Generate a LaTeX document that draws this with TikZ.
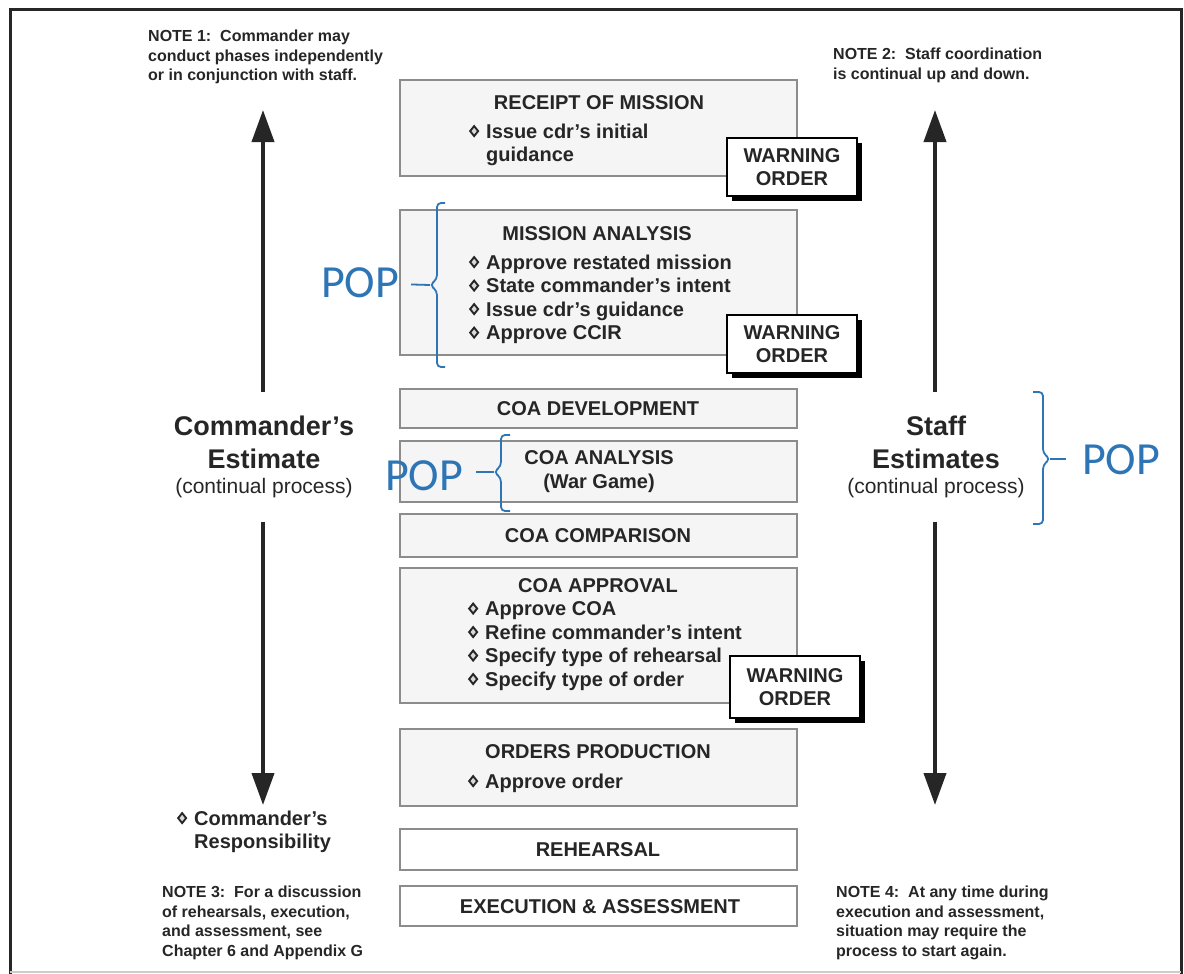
\documentclass[tikz,border=0pt]{standalone}
\usepackage{fontspec}
\setmainfont{Liberation Sans}
\newfontfamily\popfont{Carlito}
\usetikzlibrary{arrows.meta,shadows}
\definecolor{popblue}{RGB}{46,117,182}
\definecolor{ink}{RGB}{38,38,38}
\newcommand\bul{\tikz[baseline=0pt]\draw[ink,line width=1.9pt,fill=black!15] (0pt,7pt)--(4pt,12pt)--(8pt,7pt)--(4pt,2pt)--cycle;}
\newcommand\itm[1]{\makebox[17pt][l]{\bul}#1}
\newcommand\cnt[1]{\hspace*{17pt}#1}
\begin{document}
\begin{tikzpicture}[x=1pt, y=-1pt,
    txt/.style={text=ink, inner sep=0pt},
    phase/.style={draw=black!45, fill=black!4, line width=1.1pt, minimum width=397pt, inner sep=0pt,
      drop shadow={shadow xshift=0.6pt, shadow yshift=-1.4pt, fill=black!60, opacity=1}},
    plainphase/.style={phase, fill=white},
    ttl/.style={txt, font=\fontsize{20}{24.5}\selectfont\bfseries, align=center},
    items/.style={txt, font=\fontsize{20}{23.5}\selectfont\bfseries, align=left, anchor=north west},
    worder/.style={draw=black, fill=white, line width=1.2pt, minimum width=130pt, minimum height=58pt,
      align=center, text=ink, inner sep=0pt, font=\fontsize{20}{23}\selectfont\bfseries,
      drop shadow={shadow xshift=5pt, shadow yshift=-5pt, fill=black, opacity=1}},
    note/.style={txt, font=\fontsize{16}{19.5}\selectfont\bfseries, align=left, anchor=north west},
    est/.style={txt, align=center, font=\fontsize{27}{33}\selectfont\bfseries},
    bigarrow/.style={line width=4pt, ink, -{Triangle[length=32pt,width=22pt]}},
    pop/.style={text=popblue, inner sep=0pt, font=\popfont\fontsize{46}{50}\selectfont},
    brace/.style={popblue, line width=1.8pt, rounded corners=4pt}]
  \useasboundingbox (0,0) rectangle (1184,974);

  % frame
  \draw[line width=3pt, black!85] (10,974) -- (10,10) -- (1181,10) -- (1181,974);
  \draw[line width=2pt, black!20] (10,972) -- (1181,972);

  % notes
  \node[note] (note1) at (148,30) {NOTE 1:\ \ Commander may\\conduct phases independently\\or in conjunction with staff.};
  \node[note] (note2) at (833,48) {NOTE 2:\ \ Staff coordination\\is continual up and down.};
  \node[note] (note3) at (162,886) {NOTE 3:\ \ For a discussion\\of rehearsals, execution,\\and assessment, see\\Chapter 6 and Appendix G};
  \node[note] (note4) at (836,886) {NOTE 4:\ \ At any time during\\execution and assessment,\\situation may require the\\process to start again.};

  % phases
  \node[phase, minimum height=96pt] (receipt) at (598.5,128) {};
  \node[phase, minimum height=145pt] (mission) at (598.5,282.5) {};
  \node[phase, minimum height=39pt] (coadev) at (598.5,408.5) {};
  \node[phase, minimum height=61pt] (coaanal) at (598.5,471.5) {};
  \node[phase, minimum height=43pt] (coacomp) at (598.5,535.5) {};
  \node[phase, minimum height=135pt] (coaappr) at (598.5,635.5) {};
  \node[phase, minimum height=77pt] (orders) at (598.5,767.5) {};
  \node[plainphase, minimum height=41pt] (rehearsal) at (598.5,849.5) {};
  \node[plainphase, minimum height=40pt] (exec) at (598.5,906) {};

  \node[ttl] (receipt-t) at (599,103) {RECEIPT OF MISSION};
  \node[items] (receipt-i) at (469,123.4) {\itm{Issue cdr's initial}\\\cnt{guidance}};
  \node[ttl] (mission-t) at (597,234) {MISSION ANALYSIS};
  \node[items] (mission-i) at (469,254.4) {\itm{Approve restated mission}\\\itm{State commander's intent}\\\itm{Issue cdr's guidance}\\\itm{Approve CCIR}};
  \node[ttl] (coadev-t) at (598,409) {COA DEVELOPMENT};
  \node[ttl] (coaanal-t) at (599,471.5) {COA ANALYSIS\\(War Game)};
  \node[ttl] (coacomp-t) at (598,536) {COA COMPARISON};
  \node[ttl] (coaappr-t) at (598,586) {COA APPROVAL};
  \node[items] (coaappr-i) at (468,601.4) {\itm{Approve COA}\\\itm{Refine commander's intent}\\\itm{Specify type of rehearsal}\\\itm{Specify type of order}};
  \node[ttl] (orders-t) at (598,752) {ORDERS PRODUCTION};
  \node[items] (orders-i) at (468,773.4) {\itm{Approve order}};
  \node[ttl] (rehearsal-t) at (598,850) {REHEARSAL};
  \node[ttl] (exec-t) at (600,907) {EXECUTION \& ASSESSMENT};

  % warning orders
  \node[worder] (warn1) at (792,167) {WARNING\\ORDER};
  \node[worder] (warn2) at (792,344) {WARNING\\ORDER};
  \node[worder, minimum height=62pt] (warn3) at (795,687) {WARNING\\ORDER};

  % estimates
  \node[est, minimum height=129pt] (cmdest) at (264,457) {Commander's\\Estimate\\[-8pt]{\mdseries\fontsize{21}{25}\selectfont (continual process)}};
  \node[est, minimum height=129pt] (staffest) at (936,457) {Staff\\Estimates\\[-8pt]{\mdseries\fontsize{21}{25}\selectfont (continual process)}};
  \coordinate (cmdtop) at (263,110);
  \coordinate (cmdbot) at (263,805);
  \coordinate (stafftop) at (935,110);
  \coordinate (staffbot) at (935,805);
  \draw[bigarrow] (cmdest.north -| cmdtop) -- (cmdtop);
  \draw[bigarrow] (cmdest.south -| cmdbot) -- (cmdbot);
  \draw[bigarrow] (staffest.north -| stafftop) -- (stafftop);
  \draw[bigarrow] (staffest.south -| staffbot) -- (staffbot);

  \node[items] (cmdresp) at (177,810.4) {\itm{Commander's}\\\cnt{Responsibility}};

  % POP brackets
  \node[pop] (pop1) at (360,283) {POP};
  \node[pop] (pop2) at (424,476) {POP};
  \node[pop] (pop3) at (1121,460) {POP};
  \coordinate (tip1) at (430,285);
  \coordinate (tip2) at (494,472);
  \coordinate (tip3) at (1050,459);
  \draw[brace] (445,203) -- (437,203) -- (437,279) -- (tip1) -- (437,291) -- (437,367) -- (445,367);
  \draw[brace] (510,435) -- (501,435) -- (501,466) -- (tip2) -- (501,478) -- (501,511) -- (510,511);
  \draw[brace] (1033,392) -- (1043,392) -- (1043,453) -- (tip3) -- (1043,465) -- (1043,524) -- (1033,524);
  \draw[popblue, line width=1.8pt, shorten <=12pt] (pop1) -- (tip1);
  \draw[popblue, line width=1.8pt, shorten <=13pt] (pop2.east |- tip2) -- (tip2);
  \draw[popblue, line width=1.8pt, shorten <=16pt] (pop3.west |- tip3) -- (tip3);
\end{tikzpicture}
\end{document}
